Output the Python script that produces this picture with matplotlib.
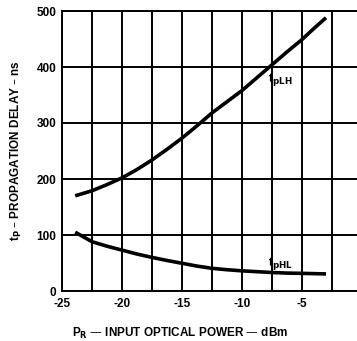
import numpy as np
import matplotlib.pyplot as plt

plt.rcParams['font.family'] = ['Liberation Sans', 'DejaVu Sans']
plt.rcParams['font.weight'] = 'bold'
plt.rcParams['axes.unicode_minus'] = False

# input optical power (dBm)
p_r = [-23.9, -22.5, -21.25, -20, -18.75, -17.5, -16.25, -15, -13.75, -12.5,
       -11.25, -10, -8.75, -7.5, -6.25, -5, -4, -3]
# propagation delays (ns)
t_plh = [170, 179, 190, 202, 217, 234, 253, 273, 295, 318,
         338, 358, 381, 404, 427, 449, 469, 488]
t_phl = [105, 88, 80, 73, 66, 60, 54.5, 49.5, 44.5, 40.5,
         38, 36, 34.5, 33, 32, 31.5, 31, 30.5]

xticks = [-25, -20, -15, -10, -5, 0]
yticks = [0, 100, 200, 300, 400, 500]

fig = plt.figure(figsize=(3.57, 3.41), dpi=100)
# right edge of the plot runs past the picture (x = 0 is cut off)
ax = fig.add_axes([62 / 357, 50 / 341, 300 / 357, 280 / 341])

ax.plot(p_r, t_plh, color="black", lw=2.6, solid_capstyle="butt")
ax.plot(p_r, t_phl, color="black", lw=2.6, solid_capstyle="butt")

ax.set_xlim(-25, 0)
ax.set_ylim(0, 500)
ax.set_xticks(xticks)
ax.set_yticks(yticks)
ax.set_xticks(np.arange(-22.5, 0, 5), minor=True)
ax.grid(which="both", axis="x", color="black", lw=1.4)
ax.grid(which="major", axis="y", color="black", lw=1.4)
ax.tick_params(which="both", length=0, labelsize=8.5)
ax.tick_params(axis="x", pad=5)
ax.tick_params(axis="y", pad=4)
for s in ax.spines.values():
    s.set_linewidth(1.4)

ax.text(-7.8, 378, r"t$_{\mathbf{pLH}}$", fontsize=9, fontweight="bold", va="center")
ax.text(-7.8, 50, r"t$_{\mathbf{pHL}}$", fontsize=9, fontweight="bold", va="center")

ax.set_ylabel(r"t$_{\mathbf{P}}$ – PROPAGATION DELAY – ns", fontsize=8.5, fontweight="bold", labelpad=9)
fig.text(180 / 357, 1 - 333 / 341, r"P$_{\mathbf{R}}$ — INPUT OPTICAL POWER — dBm",
         fontsize=8.5, fontweight="bold", ha="center", va="center")

fig.savefig("out.png", dpi=100)
